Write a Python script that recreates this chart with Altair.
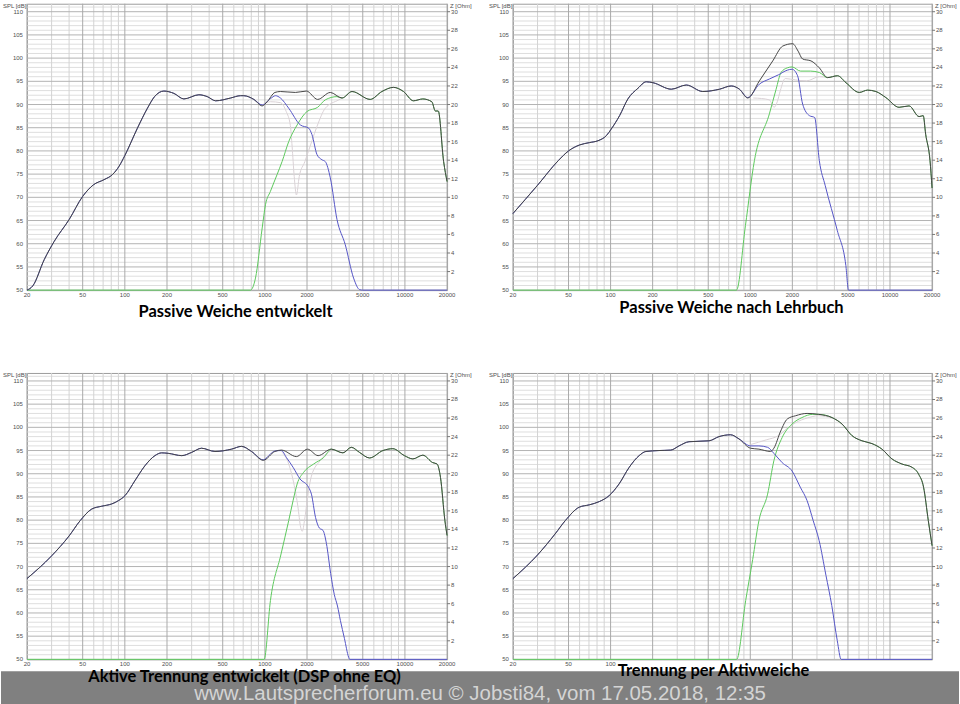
import altair as alt
import pandas as pd

# ---- measured / simulated responses: (frequency Hz, SPL dB) ----
# Panel 1: Passive Weiche entwickelt
A_SUM = [(20, 50.0), (22, 50.9), (26.6, 56.6), (31.3, 60.5), (40, 65.2), (50, 70.2), (59.7, 72.7),
         (71, 73.8), (81.6, 74.9), (91, 76.7), (100, 79.0), (123, 84.9), (145, 89.2), (163, 91.7),
         (190, 92.9), (224, 92.4), (264, 91.2), (338, 92.1), (388, 91.7), (445, 90.8), (569, 91.4),
         (670, 91.9), (707, 91.9), (834, 91.1), (957, 89.7), (1038, 90.6), (1180, 92.6), (1292, 92.8),
         (1652, 92.6), (1979, 92.9), (2382, 91.1), (2933, 92.6), (3556, 91.4), (4190, 92.8),
         (5650, 91.1), (6850, 92.8), (8280, 93.7), (9770, 92.8), (11500, 90.8), (13420, 91.2),
         (15560, 90.6), (16500, 88.6), (17300, 88.6), (18900, 77.7), (20000, 73.4)]
A_WOOFER = [(957, 89.9), (1100, 91.3), (1190, 91.9), (1292, 91.4), (1480, 89.2), (1792, 85.6),
            (2055, 84.9), (2170, 83.5), (2357, 79.2), (2555, 78.1), (2700, 77.7), (2933, 74.2),
            (3275, 65.2), (3750, 59.8), (4300, 52.6), (4750, 50.1), (5000, 50.0), (20000, 50.0)]
A_TWEETER = [(20, 50.0), (789, 50.0), (857, 52.6), (957, 63.4), (1010, 68.4), (1096, 71.3),
             (1222, 74.9), (1327, 77.7), (1480, 82.0), (1700, 85.6), (2000, 88.5), (2382, 89.4),
             (2700, 91.0), (3275, 91.7)]
A_FAINT = [(957, 89.9), (1096, 90.6), (1292, 90.4), (1420, 88.5), (1520, 85.5), (1565, 81.0),
           (1620, 74.5), (1680, 70.5), (1760, 74.5), (1930, 77.7), (2170, 82.2), (2357, 85.3),
           (2700, 89.2), (3370, 91.0), (3556, 91.4)]

# Panel 2: Passive Weiche nach Lehrbuch
B_SUM = [(20, 66.5), (30, 72.6), (42.2, 77.9), (50, 80.0), (60.2, 81.3), (70.9, 81.8), (81.3, 82.2),
         (93.3, 83.3), (101, 84.7), (116, 87.6), (133, 91.2), (157, 93.5), (180, 94.9), (201, 94.7),
         (272, 93.3), (348, 94.2), (457, 92.8), (602, 93.3), (730, 94.0), (836, 93.3), (959, 91.4),
         (1162, 95.1), (1448, 99.4), (1708, 102.6), (2010, 103.1), (2200, 101.5), (2370, 99.8),
         (2720, 99.4), (3120, 97.9), (3570, 95.8), (4210, 96.2), (4840, 94.7), (6030, 92.6),
         (6900, 93.1), (7930, 92.8), (9340, 91.5), (11610, 89.4), (13700, 89.7), (16150, 87.4),
         (17290, 87.6), (18000, 83.6), (19340, 77.9), (20000, 72.0)]
B_WOOFER = [(959, 91.5), (1162, 94.4), (1370, 95.5), (1590, 96.4), (1840, 97.4), (1990, 97.6),
            (2180, 96.2), (2370, 90.1), (2650, 87.6), (2890, 87.2), (3120, 77.9), (3440, 72.5),
            (4200, 62.8), (4830, 55.3), (5050, 50.0), (20000, 50.0)]
B_TWEETER = [(20, 50.0), (796, 50.0), (923, 63.9), (1070, 77.9), (1370, 88.0), (1530, 93.3),
             (1660, 96.9), (1840, 97.9), (1990, 98.1), (2290, 97.2), (2700, 97.2), (3120, 96.9)]
B_FAINT = [(1050, 91.4), (1200, 91.3), (1370, 91.0), (1480, 89.4), (1560, 90.6), (1640, 93.0),
           (1780, 95.6), (2100, 95.3), (2530, 95.1), (3120, 96.0), (3570, 95.8)]

# Panel 3: Aktive Trennung entwickelt (DSP ohne EQ)
C_SUM = [(20, 67.4), (30, 72.3), (40, 76.6), (48, 79.9), (58.1, 82.4), (68.4, 83.0), (80.7, 83.5),
         (90, 84.2), (100.4, 85.3), (118, 88.5), (139, 91.7), (164, 93.9), (183, 94.5), (204, 94.4),
         (255, 93.9), (300, 94.6), (353, 95.5), (440, 94.8), (578, 95.3), (681, 95.9), (803, 94.8),
         (973, 92.9), (1178, 94.8), (1313, 95.1), (1680, 93.7), (2014, 95.3), (2400, 93.9),
         (2980, 95.3), (3610, 94.5), (4140, 95.7), (4740, 94.6), (5590, 93.4), (6970, 95.0),
         (8200, 95.4), (9930, 93.9), (11400, 93.2), (13420, 94.0), (15800, 92.4), (16970, 92.1),
         (17950, 89.2), (19300, 79.9), (20000, 76.7)]
C_WOOFER = [(973, 93.0), (1100, 94.3), (1178, 94.9), (1313, 95.0), (1425, 93.5), (1590, 91.4),
            (1780, 88.9), (2050, 87.1), (2150, 85.6), (2300, 80.6), (2450, 78.3), (2600, 77.8),
            (2750, 75.0), (2950, 68.5), (3130, 64.0), (3300, 61.5), (3460, 58.4), (3700, 54.5),
            (3960, 50.5), (4030, 50.0), (20000, 50.0)]
C_TWEETER = [(20, 50.0), (988, 50.0), (1096, 62.7), (1300, 72.5), (1480, 79.9), (1590, 84.2),
             (1700, 87.8), (1890, 90.3), (2230, 92.1), (2630, 93.5)]
C_FAINT = [(1313, 94.8), (1480, 92.1), (1620, 87.5), (1720, 83.0), (1800, 78.5), (1850, 77.6),
           (1920, 80.0), (2020, 85.0), (2150, 89.5), (2480, 92.8), (2980, 95.0)]

# Panel 4: Trennung per Aktivweiche
D_SUM = [(20, 67.4), (30, 72.5), (40, 77.0), (47.4, 79.9), (59.7, 82.8), (70.4, 83.3), (83, 84.0),
         (97.8, 85.3), (115, 87.8), (136, 91.4), (160, 93.9), (179, 94.8), (222, 95.0), (270, 95.1),
         (309, 96.0), (364, 96.9), (507, 97.1), (597, 98.0), (723, 98.4), (830, 97.5), (1005, 95.5),
         (1153, 95.3), (1397, 94.8), (1475, 95.5), (1650, 99.2), (1840, 101.8), (2110, 102.5),
         (2550, 103.0), (3090, 102.8), (3850, 102.1), (4540, 100.7), (5350, 98.2), (6300, 97.1),
         (7430, 96.5), (8760, 95.3), (10320, 93.2), (12170, 92.1), (14360, 91.4), (16030, 89.9),
         (17390, 87.1), (18800, 79.9), (20000, 74.5)]
D_WOOFER = [(1005, 96.0), (1153, 96.0), (1330, 95.7), (1475, 94.4), (1690, 92.4), (1990, 90.6),
            (2280, 87.1), (2550, 84.2), (2820, 79.9), (3110, 75.6), (3480, 68.1), (3830, 61.6),
            (4190, 54.1), (4470, 50.0), (20000, 50.0)]
D_TWEETER = [(20, 50.0), (798, 50.0), (927, 62.7), (1040, 71.5), (1153, 79.9), (1330, 85.6),
             (1475, 92.8), (1690, 97.8), (1990, 100.7), (2340, 102.1), (2800, 102.8)]
D_FAINT = [(1005, 96.3), (1300, 97.3), (1590, 98.2), (1840, 99.8), (2110, 101.0), (2550, 102.0),
           (3090, 102.5), (3850, 102.0)]

CAPTIONS = ["Passive Weiche entwickelt", "Passive Weiche nach Lehrbuch",
            "Aktive Trennung entwickelt (DSP ohne EQ)", "Trennung per Aktivweiche"]
FOOTER = "www.Lautsprecherforum.eu \u00a9 Jobsti84, vom 17.05.2018, 12:35"

# ---- grid and tick values ----
F_LABELS = [20, 50, 100, 200, 500, 1000, 2000, 5000, 10000, 20000]
F_LABELS_SHORT = [20, 50, 100]  # the caption of the last panel covers the rest of its label row
F_MINOR = [30, 40, 60, 70, 80, 90, 300, 400, 600, 700, 800, 900,
           3000, 4000, 6000, 7000, 8000, 9000]
DB_MAJOR = list(range(50, 111, 5))
DB_MINOR = [v for v in range(51, 112) if v % 5 != 0]
OHM_TICKS = list(range(2, 31, 2))

Y_TOP = 111.72
X = alt.Scale(type="log", domain=[20, 20000], nice=False)
Y = alt.Scale(domain=[50, Y_TOP], nice=False, zero=False)
H = 287
TICK_FONT = dict(fontSize=6, color="#505050", font="Liberation Sans")

db_df = pd.DataFrame({"db": DB_MAJOR, "t": [str(v) for v in DB_MAJOR]})
ohm_df = pd.DataFrame({"db": [50 + 2 * z for z in OHM_TICKS], "t": [str(z) for z in OHM_TICKS]})


def frame(points):
    return pd.DataFrame(points, columns=["f", "db"])


def curve(points, color, width):
    return alt.Chart(frame(points)).mark_line(
        color=color, strokeWidth=width, interpolate="monotone"
    ).encode(x=alt.X("f:Q", scale=X, axis=None), y=alt.Y("db:Q", scale=Y, axis=None))


def note(text, x, y, size, color="#505050", align="left", weight="normal", font="Liberation Sans"):
    return alt.Chart(pd.DataFrame({"t": [text]})).mark_text(
        align=align, baseline="alphabetic", fontSize=size, color=color,
        fontWeight=weight, font=font
    ).encode(x=alt.value(x), y=alt.value(y), text="t:N")


def panel(total, woofer, tweeter, faint, w_split, t_split, width, caption, cap_x, cap_y,
          f_shown=F_LABELS, extra_back=(), extra_front=()):
    woofer_full = [p for p in total if p[0] < w_split] + woofer
    tweeter_full = tweeter + [p for p in total if p[0] >= t_split]
    f_df = pd.DataFrame({"f": F_LABELS})
    f_lab_df = pd.DataFrame({"f": f_shown, "t": [str(v) for v in f_shown]})

    # grid: light lines every dB / every sub-decade step, darker at the labelled values
    h_minor = alt.Chart(pd.DataFrame({"db": DB_MINOR})).mark_rule(color="#dedede", strokeWidth=1).encode(
        y=alt.Y("db:Q", scale=Y, axis=None))
    v_minor = alt.Chart(pd.DataFrame({"f": F_MINOR})).mark_rule(color="#d3d3d3", strokeWidth=1).encode(
        x=alt.X("f:Q", scale=X, axis=None))
    h_major = alt.Chart(db_df).mark_rule(color="#b3b3b3", strokeWidth=1).encode(
        y=alt.Y("db:Q", scale=Y, axis=None))
    v_major = alt.Chart(f_df).mark_rule(color="#aaaaaa", strokeWidth=1).encode(
        x=alt.X("f:Q", scale=X, axis=None))

    # tick labels placed through the same scales
    f_labels = alt.Chart(f_lab_df).mark_text(align="center", baseline="middle", **TICK_FONT).encode(
        x=alt.X("f:Q", scale=X, axis=None), y=alt.value(H + 5), text="t:N")
    db_labels = alt.Chart(db_df).mark_text(align="right", baseline="middle", **TICK_FONT).encode(
        y=alt.Y("db:Q", scale=Y, axis=None), x=alt.value(-4), text="t:N")
    # impedance scale on the right: 1 Ohm per 2 dB
    z_ticks = alt.Chart(ohm_df).mark_rule(color="#777777", strokeWidth=1).encode(
        y=alt.Y("db:Q", scale=Y, axis=None), x=alt.value(width), x2=alt.value(width + 3))
    z_labels = alt.Chart(ohm_df).mark_text(align="left", baseline="middle", **TICK_FONT).encode(
        y=alt.Y("db:Q", scale=Y, axis=None), x=alt.value(width + 4), text="t:N")

    layers = list(extra_back) + [
        h_minor, v_minor, h_major, v_major,
        curve(faint, "#dad2d6", 1.0),
        curve(tweeter_full, "#5dc95d", 1.0),
        curve(woofer_full, "#5454c6", 1.0),
        curve(total, "#454545", 1.0),
        f_labels, db_labels, z_ticks, z_labels,
        note("SPL [dB]", -24, 4, 6),
        note("Z [Ohm]", width + 3, 4, 6),
    ] + list(extra_front) + [
        note(caption, cap_x, cap_y, 16.5, color="#000000", align="center", weight="bold", font="Lato"),
    ]
    return alt.layer(*layers).properties(width=width, height=H)


# invisible anchor keeps a 2px margin above the first panel
anchor = alt.Chart(pd.DataFrame({"a": [0]})).mark_rect(opacity=0).encode(
    x=alt.value(-26), x2=alt.value(-25), y=alt.value(-2), y2=alt.value(-1))

# grey footer band with the copyright line, drawn inside the lower-left panel
band = alt.Chart(pd.DataFrame({"a": [0]})).mark_rect(color="#808080").encode(
    x=alt.value(-26), x2=alt.value(934), y=alt.value(299), y2=alt.value(332))
footer_text = note(FOOTER, 454, 327.5, 20.5, color="#d4d4d4", align="center")

p1 = panel(A_SUM, A_WOOFER, A_TWEETER, A_FAINT, 900, 3500, 421, CAPTIONS[0], 209, 314,
           extra_back=[anchor])
p2 = panel(B_SUM, B_WOOFER, B_TWEETER, B_FAINT, 900, 3500, 420, CAPTIONS[1], 219, 310)
p3 = panel(C_SUM, C_WOOFER, C_TWEETER, C_FAINT, 900, 2980, 421, CAPTIONS[2], 218, 309.5,
           extra_front=[band, footer_text])
p4 = panel(D_SUM, D_WOOFER, D_TWEETER, D_FAINT, 900, 3000, 420, CAPTIONS[3], 201, 304,
           f_shown=F_LABELS_SHORT)

chart = alt.concat(
    p1, p2, p3, p4, columns=2,
    spacing=alt.RowColnumber(row=83, column=66), bounds="flush",
    padding=0, background="#ffffff",
).configure_view(stroke="#9c9c9c", strokeWidth=1)

chart.save("out.html", embed_options={"renderer": "svg", "actions": False})
